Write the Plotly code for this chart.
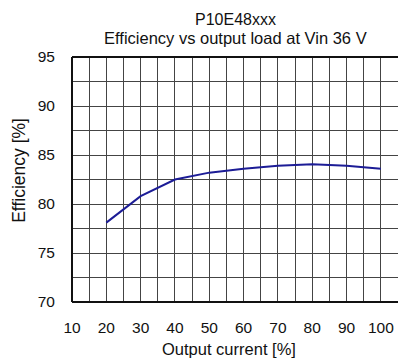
import plotly.graph_objects as go

output_current = [20, 30, 40, 50, 60, 70, 80, 90, 100]
efficiency = [78.1, 80.8, 82.5, 83.2, 83.6, 83.9, 84.05, 83.9, 83.6]
x_ticks = [10, 20, 30, 40, 50, 60, 70, 80, 90, 100]
y_ticks = [70, 75, 80, 85, 90, 95]

FONT = "Liberation Sans, Arial, sans-serif"
GRID = "#444444"
TXT = "#111111"

fig = go.Figure()
fig.add_trace(go.Scatter(
    x=output_current, y=efficiency, mode="lines",
    line=dict(color="#1c1c96", width=2), showlegend=False,
))

fig.update_layout(
    width=398, height=360,
    margin=dict(l=72, r=0, t=57, b=58),
    paper_bgcolor="white", plot_bgcolor="white",
    font=dict(family=FONT, size=15, color=TXT),
)
fig.update_xaxes(
    range=[10, 105], tickvals=x_ticks, ticktext=[str(v) for v in x_ticks],
    showgrid=True, gridcolor=GRID, gridwidth=1,
    minor=dict(dtick=5, tick0=10, showgrid=True, gridcolor=GRID, gridwidth=1),
    showline=False, zeroline=False, ticks="",
    tickfont=dict(size=15.5), ticklabelstandoff=14,
)
fig.update_yaxes(
    range=[70, 95], tickvals=y_ticks, ticktext=[str(v) for v in y_ticks],
    showgrid=True, gridcolor=GRID, gridwidth=1,
    minor=dict(dtick=2.5, tick0=70, showgrid=True, gridcolor=GRID, gridwidth=1),
    showline=False, zeroline=False, ticks="",
    tickfont=dict(size=15.5), ticklabelstandoff=16,
)
# titles as annotations
fig.add_annotation(text="P10E48xxx", xref="paper", yref="paper",
                   x=0.502, y=1.152, xanchor="center", yanchor="middle",
                   showarrow=False, font=dict(size=16, color=TXT))
fig.add_annotation(text="Efficiency vs output load at Vin 36 V", xref="paper", yref="paper",
                   x=0.502, y=1.078, xanchor="center", yanchor="middle",
                   showarrow=False, font=dict(size=16.5, color=TXT))
fig.add_annotation(text="Output current [%]", xref="paper", yref="paper",
                   x=0.483, y=-0.19, xanchor="center", yanchor="middle",
                   showarrow=False, font=dict(size=16.5, color=TXT))
fig.add_annotation(text="Efficiency [%]", xref="paper", yref="paper",
                   x=-0.163, y=0.539, xanchor="center", yanchor="middle",
                   textangle=-90, showarrow=False, font=dict(size=17.5, color=TXT))
# thick border on left, top and bottom
fig.add_shape(type="line", xref="paper", yref="paper", x0=0, x1=0, y0=0, y1=1,
              line=dict(color=TXT, width=2))
fig.add_shape(type="line", xref="paper", yref="paper", x0=0, x1=1, y0=1, y1=1,
              line=dict(color=TXT, width=2))
fig.add_shape(type="line", xref="paper", yref="paper", x0=0, x1=1, y0=0, y1=0,
              line=dict(color=TXT, width=2))

fig.write_html("out.html")
